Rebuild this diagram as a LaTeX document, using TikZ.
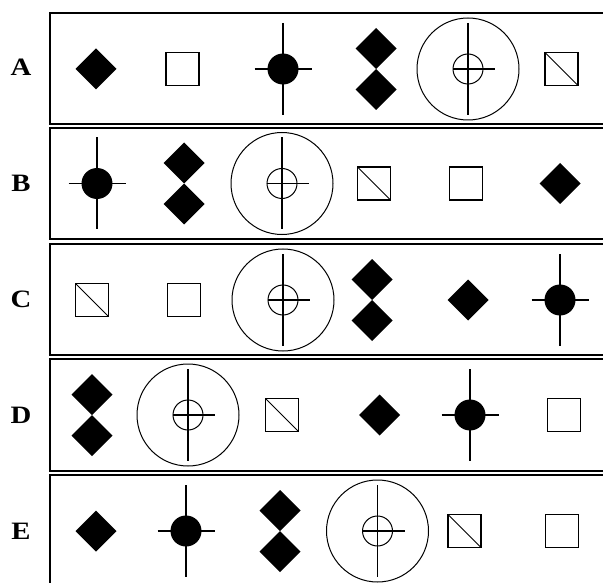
\documentclass[tikz,border=0pt]{standalone}
\usepackage{fontspec}
\setmainfont{Liberation Serif}
\begin{document}
\begin{tikzpicture}[x=1pt,y=-1pt,line join=miter]
\tikzset{
  frame/.style={draw=black,line width=1.7pt},
  sym/.style={line width=1.6pt},
  thin circ/.style={line width=1pt},
  lbl/.style={font=\fontsize{25}{25}\selectfont\bfseries,inner sep=0pt,xscale=1.15},
  pics/fdiam/.style={code={\fill (0,-20.5)--(20.5,0)--(0,20.5)--(-20.5,0)--cycle;}},
  pics/ddiam/.style={code={
    \fill (0,-41)--(20.5,-20.5)--(0,0)--(-20.5,-20.5)--cycle;
    \fill (0,0)--(20.5,20.5)--(0,41)--(-20.5,20.5)--cycle;}},
  pics/sq/.style={code={\draw[sym] (-16.5,-16.5) rectangle (16.5,16.5);}},
  pics/xsq/.style={code={\draw[sym] (-16.5,-16.5) rectangle (16.5,16.5);
    \draw[line width=1pt] (-16.5,-16.5)--(16.5,16.5);}},
  pics/crossdot/.style={code={\fill (0,0) circle (15.5pt);
    \draw[sym] (-28.5,0)--(28.5,0) (0,-46)--(0,46);}},
  pics/target/.style={code={\draw[thin circ] (0,0) circle (51pt);
    \draw[thin circ] (0,0) circle (15pt);
    \draw[sym] (0,-46)--(0,46) (-15,0)--(27,0);}}
}
\useasboundingbox (0,0) rectangle (603,583);
% frames
\draw[frame] (50,13) rectangle (640,124);
\draw[frame] (50,128) rectangle (640,239);
\draw[frame] (50,244) rectangle (640,355);
\draw[frame] (50,359) rectangle (640,471);
\draw[frame] (50,475) rectangle (640,590);
% labels
\node[lbl] (la) at (21,67) {A};
\node[lbl] (lb) at (21,183) {B};
\node[lbl] (lc) at (21,299) {C};
\node[lbl] (ld) at (21,415) {D};
\node[lbl] (le) at (21,531) {E};
% row A
\pic (a1) at (96,69) {fdiam};
\pic (a2) at (182.5,69) {sq};
\pic (a3) at (283,69) {crossdot};
\pic (a4) at (376,69) {ddiam};
\pic (a5) at (468,69) {target};
\pic (a6) at (561.5,69) {xsq};
% row B
\pic (b1) at (97,183.5) {crossdot};
\pic (b2) at (184,183.5) {ddiam};
\pic (b3) at (282,183.5) {target};
\pic (b4) at (374,183.5) {xsq};
\pic (b5) at (466,183.5) {sq};
\pic (b6) at (560,183.5) {fdiam};
% row C
\pic (c1) at (92,300) {xsq};
\pic (c2) at (184,300) {sq};
\pic (c3) at (283,300) {target};
\pic (c4) at (372,300) {ddiam};
\pic (c5) at (468,300) {fdiam};
\pic (c6) at (560,300) {crossdot};
% row D
\pic (d1) at (92,415) {ddiam};
\pic (d2) at (188,415) {target};
\pic (d3) at (282,415) {xsq};
\pic (d4) at (379.5,415) {fdiam};
\pic (d5) at (470,415) {crossdot};
\pic (d6) at (564,415) {sq};
% row E
\pic (e1) at (96,531) {fdiam};
\pic (e2) at (186,531) {crossdot};
\pic (e3) at (280,531) {ddiam};
\pic (e4) at (377.5,531) {target};
\pic (e5) at (464.5,531) {xsq};
\pic (e6) at (562,531) {sq};
\end{tikzpicture}
\end{document}
